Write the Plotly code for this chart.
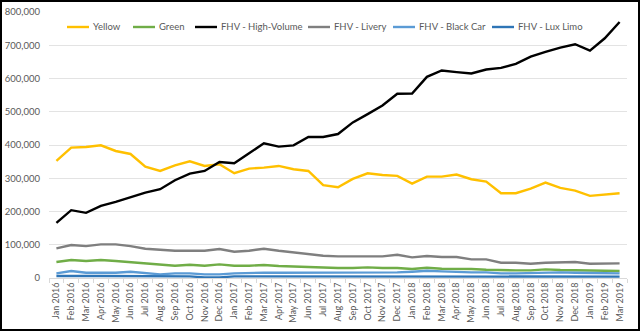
import plotly.graph_objects as go

months = ["Jan", "Feb", "Mar", "Apr", "May", "Jun", "Jul", "Aug", "Sep", "Oct", "Nov", "Dec"]
categories = [f"{m} {y}" for y in (2016, 2017, 2018) for m in months] + ["Jan 2019", "Feb 2019", "Mar 2019"]

yellow = [352000, 392000, 394000, 399000, 382000, 373000, 335000, 322000, 339000, 351000, 337000, 342000,
          315000, 329000, 332000, 337000, 327000, 322000, 279000, 273000, 298000, 315000, 310000, 307000,
          284000, 305000, 305000, 311000, 297000, 290000, 255000, 255000, 269000, 287000, 271000, 263000,
          247000, 252000, 255000]
green = [48000, 54000, 51000, 54000, 51000, 48000, 43000, 40000, 37000, 40000, 37000, 41000,
         37000, 37000, 39000, 36000, 34000, 34000, 30000, 30000, 30000, 32000, 30000, 30000,
         27000, 31000, 28000, 28000, 27000, 25000, 23000, 23000, 23000, 26000, 24000, 23000,
         22000, 22000, 21000]
high_volume = [166000, 204000, 196000, 217000, 229000, 244000, 257000, 267000, 294000, 314000, 322000, 349000,
               345000, 375000, 405000, 395000, 399000, 424000, 424000, 433000, 468000, 493000, 519000, 554000,
               555000, 605000, 624000, 619000, 615000, 627000, 632000, 644000, 666000, 680000, 693000, 703000,
               684000, 721000, 770000]
livery = [89000, 99000, 96000, 101000, 101000, 96000, 88000, 85000, 82000, 82000, 82000, 87000,
          79000, 82000, 88000, 82000, 77000, 72000, 67000, 65000, 65000, 65000, 65000, 70000,
          62000, 66000, 63000, 63000, 56000, 56000, 46000, 46000, 43000, 46000, 48000, 48000,
          43000, 43000, 44000]
black_car = [14000, 21000, 16000, 16000, 16000, 19000, 14000, 11000, 14000, 14000, 11000, 11000,
             14000, 16000, 16000, 16000, 16000, 16000, 17000, 17000, 17000, 17000, 17000, 17000,
             19000, 22000, 20000, 18000, 17000, 17000, 14000, 14000, 15000, 17000, 17000, 16000,
             15000, 14000, 14000]
lux_limo = [6000, 7000, 6000, 6000, 6000, 6000, 5000, 5000, 5000, 5000, 2000, 2000,
            5000, 5000, 5000, 5000, 5000, 5000, 4000, 5000, 5000, 5000, 5000, 5000,
            5000, 5000, 5000, 5000, 5000, 5000, 4000, 4000, 4000, 5000, 5000, 4000,
            4000, 4000, 4000]

series_names = ["Yellow", "Green", "FHV - High-Volume", "FHV - Livery", "FHV - Black Car", "FHV - Lux Limo"]
series_values = [yellow, green, high_volume, livery, black_car, lux_limo]
series_colors = ["#FFC000", "#70AD47", "#000000", "#7F7F7F", "#5B9BD5", "#2E75B6"]

# legend swatch left edges (pixels) - layout only
legend_px = [67, 133, 195, 308, 393, 492]

FONT = "Lato, Liberation Sans, Arial"
GREY = "#595959"

L, R, T, B = 49, 13, 12, 53
W = 640 - L - R
H = 331 - T - B


def px_x(px):
    return (px - L) / W


def px_y(py):
    return (T + H - py) / H


fig = go.Figure()
for name, vals, col in zip(series_names, series_values, series_colors):
    fig.add_trace(go.Scatter(x=categories, y=vals, name=name, mode="lines",
                             line=dict(color=col, width=2.4), showlegend=False))

shapes = []
annotations = []
ly = px_y(27)
for name, col, x0 in zip(series_names, series_colors, legend_px):
    shapes.append(dict(type="line", xref="paper", yref="paper",
                       x0=px_x(x0), x1=px_x(x0 + 22), y0=ly, y1=ly,
                       line=dict(color=col, width=2.4)))
    annotations.append(dict(text=name, xref="paper", yref="paper",
                            x=px_x(x0 + 24), y=ly, xanchor="left", yanchor="middle",
                            showarrow=False, font=dict(family=FONT, size=9.5, color=GREY)))

shapes.append(dict(type="rect", xref="paper", yref="paper",
                   x0=px_x(1), x1=px_x(639), y0=px_y(330), y1=px_y(1),
                   line=dict(color="black", width=2), fillcolor="rgba(0,0,0,0)", layer="above"))

fig.update_layout(
    width=640, height=331,
    margin=dict(l=L, r=R, t=T, b=B, autoexpand=False),
    paper_bgcolor="white", plot_bgcolor="white",
    font=dict(family=FONT, size=10, color=GREY),
    showlegend=False,
    xaxis=dict(type="category", range=[-0.5, len(categories) - 0.5],
               tickangle=-90, tickfont=dict(family=FONT, size=9, color=GREY),
               showgrid=False, showline=True, linecolor="#D9D9D9", linewidth=1,
               ticks="outside", tickson="boundaries", ticklen=4, tickcolor="#D9D9D9",
               zeroline=False),
    yaxis=dict(range=[0, 800000],
               tickvals=[0, 100000, 200000, 300000, 400000, 500000, 600000, 700000, 800000],
               tickformat=",d", showgrid=True, gridcolor="#E3E3E3", gridwidth=1,
               zeroline=False, showline=False, ticks="", ticklabelstandoff=8,
               tickfont=dict(family=FONT, size=9.5, color=GREY)),
    shapes=shapes,
    annotations=annotations,
)

fig.write_html("out.html")
